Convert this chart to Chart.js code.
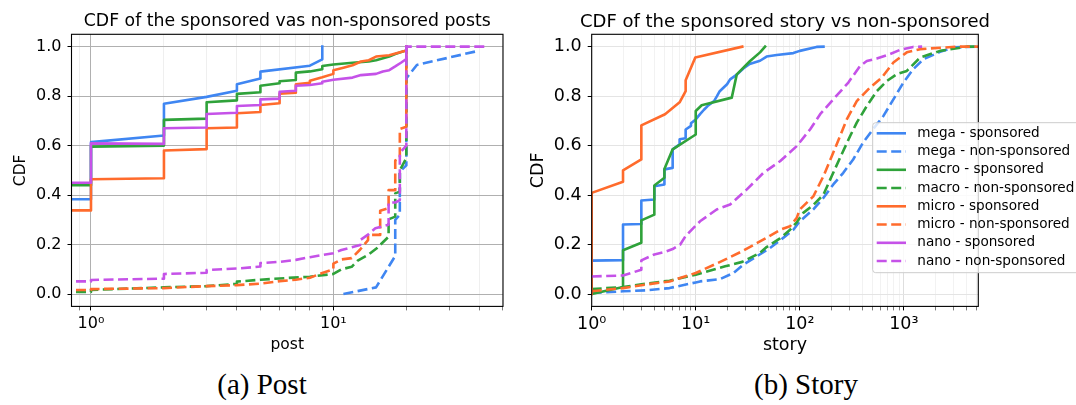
<!DOCTYPE html>
<html>
<head>
<meta charset="utf-8">
<script src="https://cdn.jsdelivr.net/npm/chart.js@4"></script>
<style>
  html, body { margin: 0; padding: 0; background: #fff; }
  #page { position: relative; width: 1076px; height: 405px; overflow: hidden; background: #fff; }
  canvas { position: absolute; top: 0; }
  #postCanvas { left: 0; }
  #storyCanvas { left: 520px; }
  .caption {
    position: absolute; top: 367px; transform: translateX(-50%);
    font-family: "Liberation Serif", "DejaVu Serif", serif; font-size: 29px;
    color: #000; white-space: nowrap; line-height: 34px;
  }
</style>
</head>
<body>
<div id="page">
  <canvas id="postCanvas" width="540" height="365"></canvas>
  <canvas id="storyCanvas" width="556" height="365"></canvas>
  <div class="caption" style="left:262px">(a) Post</div>
  <div class="caption" style="left:806px">(b) Story</div>
</div>
<script>
// tick values
const postTicks = [0.9, 1, 2, 3, 4, 5, 6, 7, 8, 9, 10, 20, 30, 40, 50];
const storyTicks = [1, 2, 3, 4, 5, 6, 7, 8, 9, 10, 20, 30, 40, 50, 60, 70, 80, 90,
  100, 200, 300, 400, 500, 600, 700, 800, 900, 1000, 2000, 3000, 4000, 5000];
const cdfTicks = [0, 0.2, 0.4, 0.6, 0.8, 1.0];

const seriesLabels = ["mega - sponsored", "mega - non-sponsored", "macro - sponsored",
  "macro - non-sponsored", "micro - sponsored", "micro - non-sponsored",
  "nano - sponsored", "nano - non-sponsored"];

// (a) post  -- [value, cdf]; 0.5 stands for the zero bucket left of the axis
const postMegaSp = [[0.5,0.383],[1,0.383],[1,0.614],[2,0.641],[2,0.769],[3,0.797],[4,0.822],
  [4,0.848],[5,0.871],[5,0.899],[8,0.923],[9,0.949],[9,1.0]];
const postMegaNon = [[11,0],[15,0.027],[18,0.154],[18,0.30],[18.8,0.32],[18.8,0.495],
  [20,0.52],[20,0.872],[22.1,0.926],[38.4,0.98]];
const postMacroSp = [[0.5,0.44],[1,0.44],[1,0.596],[2,0.60],[2,0.704],[3,0.709],[3,0.775],
  [4,0.783],[4,0.809],[5,0.816],[5,0.842],[6,0.852],[6,0.86],[7,0.865],[7,0.895],[8,0.90],
  [9,0.909],[9,0.922],[10,0.928],[12,0.935],[14,0.94],[15,0.945],[17,0.96],[18,0.97],
  [20,0.985],[20,1.0]];
const postMacroNon = [[0.5,0.008],[1,0.008],[1,0.017],[2,0.027],[3,0.032],[4,0.041],[4,0.05],
  [5,0.058],[6,0.063],[8,0.07],[10,0.081],[10.8,0.1],[11.9,0.11],[12.6,0.135],[13.9,0.158],
  [15.1,0.185],[16.9,0.232],[16.9,0.302],[18,0.313],[18,0.407],[18.8,0.414],[18.8,0.5],
  [20,0.55],[20,1.0]];
const postMicroSp = [[0.5,0.338],[1,0.338],[1,0.464],[2,0.468],[2,0.58],[3,0.586],[3,0.67],
  [4,0.673],[4,0.731],[5,0.736],[5,0.764],[6,0.771],[6,0.81],[7,0.814],[7,0.848],[8,0.854],
  [8,0.862],[9,0.876],[10,0.89],[10,0.905],[11,0.915],[12,0.925],[13,0.94],[14,0.945],
  [15,0.96],[17,0.965],[20,0.985],[20,1.0]];
const postMicroNon = [[0.5,0.016],[1,0.016],[1,0.02],[2,0.024],[3,0.032],[4,0.036],[5,0.042],
  [6,0.052],[7,0.058],[8,0.066],[9,0.085],[10,0.10],[10,0.123],[10.8,0.14],[11.9,0.145],
  [12.9,0.18],[13.9,0.218],[13.9,0.239],[15.6,0.239],[15.6,0.337],[16.9,0.347],[16.9,0.42],
  [18,0.42],[18,0.54],[18.8,0.549],[18.8,0.667],[20,0.676],[20,1.0]];
const postNanoSp = [[0.5,0.45],[1,0.45],[1,0.609],[2,0.607],[2,0.67],[3,0.673],[3,0.728],
  [4,0.733],[4,0.76],[5,0.764],[5,0.787],[6,0.79],[6,0.818],[7,0.822],[7,0.842],[8,0.845],
  [9,0.852],[9,0.858],[10,0.866],[12,0.875],[13,0.885],[15,0.89],[16,0.9],[17,0.905],
  [18,0.92],[19,0.935],[20,0.95],[20,1.0]];
const postNanoNon = [[0.5,0.051],[1,0.051],[1,0.057],[2,0.062],[2,0.081],[3,0.086],[3,0.097],
  [4,0.103],[5,0.111],[5,0.125],[6,0.13],[7,0.138],[8,0.149],[10,0.165],[10.8,0.178],
  [12.9,0.198],[12.9,0.218],[13.9,0.24],[14.9,0.266],[16.9,0.28],[16.9,0.37],[18,0.37],
  [18.8,0.38],[18.8,0.57],[20,0.6],[20,1.0],[42.4,1.0]];

// (b) story
const storyMegaSp = [[1,0.135],[2,0.137],[2,0.281],[3,0.283],[3,0.378],[4,0.382],[4,0.436],
  [5,0.443],[5,0.504],[6,0.51],[6,0.585],[7,0.605],[7,0.626],[8,0.63],[8,0.665],[9,0.68],
  [9,0.69],[10,0.706],[11,0.727],[12,0.745],[13,0.76],[14,0.77],[15,0.78],[16,0.80],
  [17,0.82],[20,0.848],[21.4,0.868],[25,0.888],[28.7,0.912],[33,0.93],[41.5,0.943],
  [48,0.96],[60,0.966],[86.8,0.974],[100,0.983],[145,0.999],[169,1.0]];
const storyMegaNon = [[1,0.004],[2,0.011],[3.3,0.015],[5.6,0.024],[10,0.047],[11,0.051],
  [17.1,0.06],[23,0.085],[28.7,0.119],[38.5,0.152],[51.7,0.186],[69.3,0.227],[86.8,0.26],
  [100,0.294],[135,0.342],[169,0.389],[210,0.443],[262,0.49],[326,0.544],[406,0.612],
  [506,0.666],[637,0.72],[794,0.787],[991,0.855],[1232,0.909],[1543,0.949],[2230,0.979],
  [3000,0.997],[5200,1.0]];
const storyMacroSp = [[1,0.0],[2,0.028],[2,0.177],[3,0.207],[3,0.298],[4,0.321],[4,0.439],
  [5,0.47],[5,0.505],[6,0.585],[10,0.645],[10,0.74],[11.4,0.763],[22.2,0.794],[24.8,0.888],
  [33.3,0.942],[41.5,0.977],[46.4,1.0]];
const storyMacroNon = [[1,0.02],[2,0.028],[3.3,0.042],[5.6,0.054],[10,0.078],[19.2,0.112],
  [28,0.13],[33,0.145],[41,0.165],[48,0.19],[64.6,0.225],[80.7,0.26],[93.5,0.29],[108,0.328],
  [135,0.36],[169,0.402],[203,0.477],[244,0.551],[305,0.639],[353,0.693],[441,0.76],
  [550,0.82],[687,0.861],[857,0.889],[1069,0.902],[1435,0.956],[2230,0.983],[4030,1.0],
  [5200,1.0]];
const storyMicroSp = [[1,0],[1,0.409],[2,0.454],[2,0.5],[3,0.544],[3,0.682],[5.07,0.727],
  [7,0.775],[8,0.82],[8,0.864],[9.9,0.956],[28,1.0]];
const storyMicroNon = [[1,0.011],[2,0.024],[3.3,0.038],[5.6,0.051],[10,0.085],[16.4,0.126],
  [28,0.173],[44.5,0.22],[65,0.26],[80.7,0.274],[93.5,0.308],[100,0.342],[135,0.395],
  [169,0.477],[203,0.557],[244,0.639],[283,0.706],[353,0.78],[474,0.835],[614,0.875],
  [794,0.936],[1069,0.977],[1435,0.99],[3236,1.0],[5200,1.0]];
const storyNanoSp = [];
const storyNanoNon = [[1,0.071],[2,0.075],[3,0.098],[3,0.136],[4,0.16],[5,0.17],[6,0.182],
  [7.1,0.2],[8,0.235],[11,0.294],[15.9,0.342],[21.4,0.362],[31,0.423],[44.7,0.49],
  [64.6,0.537],[93.5,0.598],[126,0.666],[157,0.727],[210,0.787],[293,0.855],[380,0.922],
  [441,0.942],[550,0.952],[738,0.97],[920,0.987],[1232,0.999],[1500,1.0]];

const colors = ["#3f86f2", "#3f86f2", "#2fa23a", "#2fa23a", "#ff6b2c", "#ff6b2c", "#c552e8", "#c552e8"];

Chart.defaults.font.family = '"DejaVu Sans", sans-serif';
Chart.defaults.color = "#000";

function isPow10(v) {
  const l = Math.log10(v);
  return Math.abs(l - Math.round(l)) < 1e-9;
}

function powLabel(v) {
  const sup = ["⁰", "¹", "²", "³", "⁴"];
  return "10" + sup[Math.round(Math.log10(v))];
}

function buildDatasets(series) {
  const sets = series.map((pts, i) => ({
    label: seriesLabels[i],
    data: pts.map((p) => ({ x: p[0], y: p[1] })),
    borderColor: colors[i],
    borderWidth: 2.6,
    borderDash: i % 2 ? [10, 4.5] : [],
    borderCapStyle: i % 2 ? "butt" : "square",
    borderJoinStyle: "round",
    pointRadius: 0,
    tension: 0,
    fill: false,
  }));
  // matplotlib puts the last series on top, Chart.js the first
  return sets.reverse();
}

function decor(title, titleFont, withLegend) {
  return {
    id: "decor",
    afterDatasetsDraw(chart) {
      const { ctx, chartArea: a } = chart;
      ctx.save();
      ctx.strokeStyle = "#000";
      ctx.lineWidth = 1.1;
      ctx.strokeRect(a.left, a.top, a.right - a.left, a.bottom - a.top);
      ctx.fillStyle = "#000";
      ctx.font = titleFont;
      ctx.textAlign = "center";
      ctx.textBaseline = "middle";
      ctx.fillText(title, (a.left + a.right) / 2, 22);

      if (withLegend) {
        const bx = 352.7, by = 122.7, bw = 260, bh = 150;
        ctx.beginPath();
        ctx.roundRect(bx, by, bw, bh, 3);
        ctx.fillStyle = "rgba(255,255,255,0.8)";
        ctx.fill();
        ctx.strokeStyle = "#cccccc";
        ctx.lineWidth = 1;
        ctx.stroke();
        ctx.font = '13.6px "DejaVu Sans"';
        ctx.textAlign = "left";
        seriesLabels.forEach((lab, i) => {
          const y = 133.3 + i * 18.25;
          ctx.beginPath();
          ctx.setLineDash(i % 2 ? [10, 4.5] : []);
          ctx.strokeStyle = colors[i];
          ctx.lineWidth = 2.6;
          ctx.moveTo(356.7, y);
          ctx.lineTo(386, y);
          ctx.stroke();
          ctx.setLineDash([]);
          ctx.fillStyle = "#000";
          ctx.fillText(lab, 397.3, y);
        });
      }
      ctx.restore();
    },
  };
}

function makeChart(canvas, o) {
  const bottomH = canvas.height - o.bottom;
  return new Chart(canvas, {
    type: "line",
    data: { datasets: buildDatasets(o.series) },
    plugins: [decor(o.title, o.titleFont, o.legend)],
    options: {
      responsive: false,
      animation: false,
      events: [],
      layout: { padding: { left: 0, top: o.top, right: canvas.width - o.right, bottom: 0 } },
      plugins: { legend: { display: false }, tooltip: { enabled: false }, title: { display: false } },
      scales: {
        x: {
          type: "logarithmic",
          min: o.xMin,
          max: o.xMax,
          afterBuildTicks: (s) => {
            s.ticks = o.ticks.filter((v) => v >= o.xMin - 1e-9 && v <= o.xMax + 1e-9).map((v) => ({ value: v }));
          },
          afterFit: (s) => { s.height = bottomH; },
          border: { display: false },
          grid: {
            color: (c) => (c.tick && isPow10(c.tick.value) ? o.gridMajor : o.gridMinor),
            lineWidth: (c) => (c.tick && isPow10(c.tick.value) ? 1 : 0.8),
            tickColor: (c) => (c.tick && isPow10(c.tick.value) ? "#000" : "#444"),
            tickWidth: (c) => (c.tick && isPow10(c.tick.value) ? 1 : 0.7),
            tickLength: 4,
          },
          ticks: {
            autoSkip: false,
            maxRotation: 0,
            padding: 4,
            color: "#000",
            font: { size: o.tickSize },
            callback: (v) => (isPow10(v) ? powLabel(v) : ""),
          },
          title: {
            display: true,
            text: o.xLabel,
            color: "#000",
            font: { size: o.labelSize },
            padding: { top: 0, bottom: o.xTitlePad },
          },
        },
        y: {
          type: "linear",
          min: -0.05,
          max: 1.05,
          afterBuildTicks: (s) => { s.ticks = cdfTicks.map((v) => ({ value: v })); },
          afterFit: (s) => { s.width = o.left; },
          border: { display: false },
          grid: { color: o.gridY, lineWidth: 1, tickColor: "#000", tickLength: 4 },
          ticks: {
            padding: 6,
            color: "#000",
            font: { size: o.tickSize },
            callback: (v) => Number(v).toFixed(1),
          },
          title: {
            display: true,
            text: "CDF",
            color: "#000",
            font: { size: o.labelSize },
            padding: { top: o.yTitlePad, bottom: 0 },
          },
        },
      },
    },
  });
}

makeChart(document.getElementById("postCanvas"), {
  series: [postMegaSp, postMegaNon, postMacroSp, postMacroNon, postMicroSp, postMicroNon, postNanoSp, postNanoNon],
  ticks: postTicks,
  xMin: 0.831,
  xMax: 50.1,
  xLabel: "post",
  title: "CDF of the sponsored vas non-sponsored posts",
  titleFont: '17.3px "DejaVu Sans"',
  tickSize: 16,
  labelSize: 15.5,
  left: 71.5,
  right: 503,
  top: 34.3,
  bottom: 306.4,
  xTitlePad: 11,
  yTitlePad: 12,
  gridMajor: "#b0b0b0",
  gridMinor: "#ebebeb",
  gridY: "#b0b0b0",
  legend: false,
});

makeChart(document.getElementById("storyCanvas"), {
  series: [storyMegaSp, storyMegaNon, storyMacroSp, storyMacroNon, storyMicroSp, storyMicroNon, storyNanoSp, storyNanoNon],
  ticks: storyTicks,
  xMin: 1,
  xMax: 5200,
  xLabel: "story",
  title: "CDF of the sponsored story vs non-sponsored",
  titleFont: '18px "DejaVu Sans"',
  tickSize: 17.5,
  labelSize: 17.5,
  left: 71.7,
  right: 458.3,
  top: 34.3,
  bottom: 306.4,
  xTitlePad: 9.5,
  yTitlePad: 7.5,
  gridMajor: "#dedede",
  gridMinor: "#efefef",
  gridY: "#e4e4e4",
  legend: true,
});
</script>
</body>
</html>
